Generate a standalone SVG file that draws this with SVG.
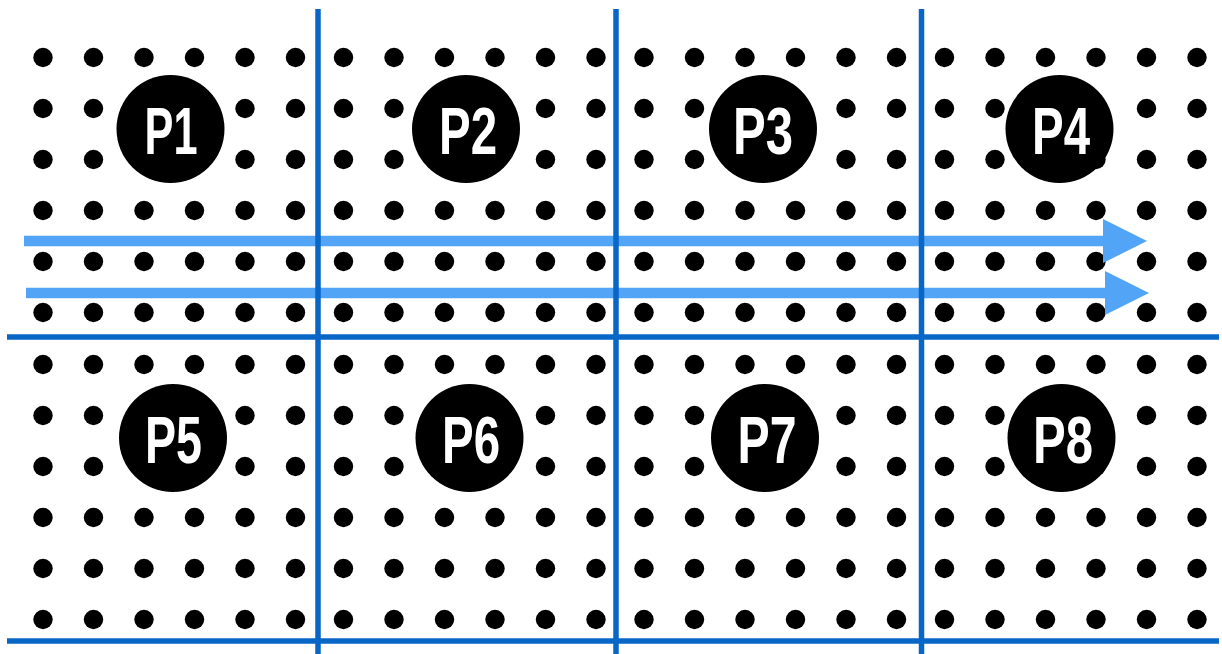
<svg xmlns="http://www.w3.org/2000/svg" xmlns:xlink="http://www.w3.org/1999/xlink" width="1222" height="654" viewBox="0 0 1222 654">
  <style>
    .dot { fill: #000; }
    .grid { stroke: #0866c6; stroke-width: 5.5; fill: none; }
    .flow { stroke: #52a5f6; stroke-width: 10.5; fill: none; }
    .node circle { fill: #000; }
    .node text { fill: #fff; font-family: "Liberation Sans", Arial, sans-serif; font-weight: bold; font-size: 66px; text-anchor: middle; }
  </style>
  <defs>
    <g id="row">
      <circle class="dot" cx="0" cy="0" r="9.7"/>
      <circle class="dot" cx="50.5" cy="0" r="9.7"/>
      <circle class="dot" cx="101" cy="0" r="9.7"/>
      <circle class="dot" cx="151.5" cy="0" r="9.7"/>
      <circle class="dot" cx="202" cy="0" r="9.7"/>
      <circle class="dot" cx="252.5" cy="0" r="9.7"/>
    </g>
    <g id="block">
      <use xlink:href="#row" y="0"/>
      <use xlink:href="#row" y="51"/>
      <use xlink:href="#row" y="102"/>
      <use xlink:href="#row" y="153"/>
      <use xlink:href="#row" y="204"/>
      <use xlink:href="#row" y="255"/>
    </g>
    <marker id="head" markerUnits="userSpaceOnUse" markerWidth="46" markerHeight="46" refX="1" refY="22" orient="auto" viewBox="0 0 46 46">
      <path d="M0,0 L44,22 L0,44 Z" fill="#52a5f6"/>
    </marker>
  </defs>
  <rect width="1222" height="654" fill="#fff"/>

  <g id="dots">
    <use xlink:href="#block" x="43" y="57.5"/>
    <use xlink:href="#block" x="343.5" y="57.5"/>
    <use xlink:href="#block" x="644" y="57.5"/>
    <use xlink:href="#block" x="944.5" y="57.5"/>
    <use xlink:href="#block" x="43" y="364.5"/>
    <use xlink:href="#block" x="343.5" y="364.5"/>
    <use xlink:href="#block" x="644" y="364.5"/>
    <use xlink:href="#block" x="944.5" y="364.5"/>
  </g>

  <g id="connectors">
    <line class="flow" x1="24" y1="241" x2="1104" y2="241" marker-end="url(#head)"/>
    <line class="flow" x1="26" y1="293" x2="1106" y2="293" marker-end="url(#head)"/>
  </g>

  <g id="partition-lines">
    <line class="grid" x1="318" y1="9" x2="318" y2="654"/>
    <line class="grid" x1="616" y1="9" x2="616" y2="654"/>
    <line class="grid" x1="921.5" y1="9" x2="921.5" y2="654"/>
    <line class="grid" x1="7" y1="337" x2="1219" y2="337"/>
    <line class="grid" x1="7" y1="641" x2="1219" y2="641"/>
  </g>

  <g id="P1" class="node"><circle cx="170.5" cy="129" r="54"/><text x="171" y="154" textLength="53" lengthAdjust="spacingAndGlyphs">P1</text></g>
  <g id="P2" class="node"><circle cx="466" cy="129" r="54"/><text x="468" y="154" textLength="58" lengthAdjust="spacingAndGlyphs">P2</text></g>
  <g id="P3" class="node"><circle cx="763" cy="129" r="54"/><text x="763" y="154" textLength="60" lengthAdjust="spacingAndGlyphs">P3</text></g>
  <g id="P4" class="node"><circle cx="1059.5" cy="129" r="54"/><text x="1061" y="154" textLength="58" lengthAdjust="spacingAndGlyphs">P4</text></g>
  <g id="P5" class="node"><circle cx="173" cy="438" r="54"/><text x="173.5" y="462.5" textLength="57" lengthAdjust="spacingAndGlyphs">P5</text></g>
  <g id="P6" class="node"><circle cx="469.5" cy="438" r="54"/><text x="471" y="462.5" textLength="58" lengthAdjust="spacingAndGlyphs">P6</text></g>
  <g id="P7" class="node"><circle cx="765" cy="438" r="54"/><text x="767" y="462.5" textLength="59" lengthAdjust="spacingAndGlyphs">P7</text></g>
  <g id="P8" class="node"><circle cx="1061.5" cy="438" r="54"/><text x="1063" y="462.5" textLength="60" lengthAdjust="spacingAndGlyphs">P8</text></g>
</svg>
